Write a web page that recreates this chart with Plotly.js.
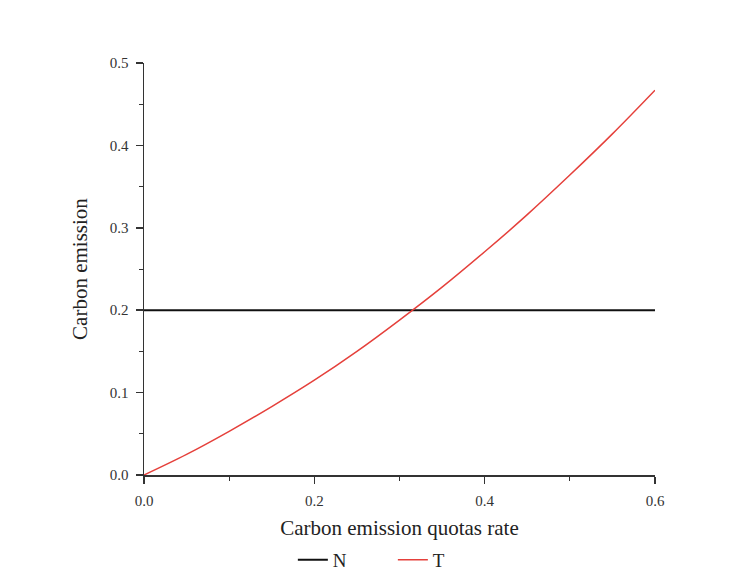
<!DOCTYPE html>
<html>
<head>
<meta charset="utf-8">
<script src="https://cdn.plot.ly/plotly-3.0.1.min.js"></script>
<style>html,body{margin:0;padding:0;background:#fff;}#chart{width:748px;height:572px;}</style>
</head>
<body>
<div id="chart"></div>
<script>
// Data
const quotaRate = [0, 0.05, 0.1, 0.15, 0.2, 0.25, 0.3, 0.35, 0.4, 0.45, 0.5, 0.55, 0.6];
const emissionT = [0, 0.025, 0.053, 0.083, 0.115, 0.150, 0.188, 0.228, 0.271, 0.316, 0.364, 0.414, 0.467];
const rateN = [0, 0.6];
const emissionN = [0.2, 0.2];
const seriesNames = ['N', 'T'];

const font = 'Liberation Serif, Times New Roman, serif';

const traces = [
  {x: rateN, y: emissionN, name: seriesNames[0], mode: 'lines', line: {color: '#111111', width: 2}},
  {x: quotaRate, y: emissionT, name: seriesNames[1], mode: 'lines', line: {color: '#e5403b', width: 1.5, shape: 'spline'}}
];

const axisCommon = {
  showgrid: false, zeroline: false, showline: true, linecolor: '#333', linewidth: 1.5,
  ticks: 'outside', ticklen: 7, tickwidth: 1.5, tickcolor: '#333',
  tickfont: {family: font, size: 15, color: '#333'},
  ticklabelstandoff: 4,
  tickformat: '.1f'
};

const layout = {
  width: 748, height: 572,
  margin: {l: 144, r: 93, t: 63, b: 97, autoexpand: false},
  paper_bgcolor: '#fff', plot_bgcolor: '#fff',
  font: {family: font, color: '#222'},
  xaxis: Object.assign({}, axisCommon, {
    range: [0, 0.6], dtick: 0.2, tick0: 0, automargin: false,
    minor: {dtick: 0.1, ticks: 'outside', ticklen: 4, tickwidth: 1, tickcolor: '#333'},
    title: {text: 'Carbon emission quotas rate', font: {family: font, size: 21, color: '#222'}, standoff: 13}
  }),
  yaxis: Object.assign({}, axisCommon, {
    range: [0, 0.5], dtick: 0.1, tick0: 0, automargin: false,
    minor: {dtick: 0.05, ticks: 'outside', ticklen: 4, tickwidth: 1, tickcolor: '#333'},
    title: {text: 'Carbon emission', font: {family: font, size: 21, color: '#222'}, standoff: 16}
  }),
  showlegend: true,
  legend: {orientation: 'h', x: 0.487, xanchor: 'center', y: -0.206, yanchor: 'middle',
    font: {family: font, size: 19, color: '#222'}, bgcolor: 'rgba(0,0,0,0)', entrywidth: 55}
};

Plotly.newPlot('chart', traces, layout, {displayModeBar: false, staticPlot: true});
</script>
</body>
</html>
